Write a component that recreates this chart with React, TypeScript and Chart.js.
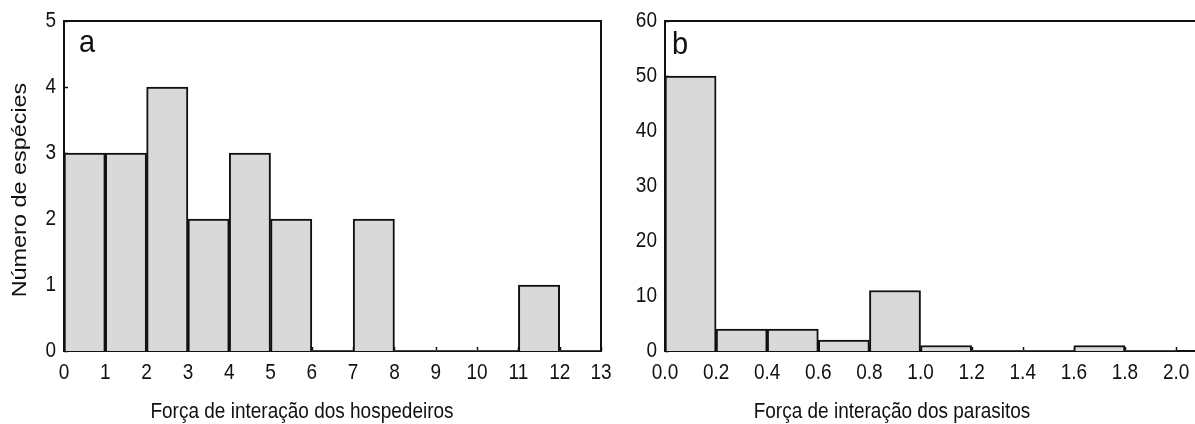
import React, { useEffect, useRef } from "react";
import { Chart, registerables } from "chart.js";
Chart.register(...registerables);

// ---- Panel a: host interaction strength ----
const hostBinStarts = [0, 1, 2, 3, 4, 5, 6, 7, 8, 9, 10, 11, 12];
const hostBinWidth = 1;
const hostCounts = [3, 3, 4, 2, 3, 2, 0, 2, 0, 0, 0, 1, 0];
const hostXTicks = [0, 1, 2, 3, 4, 5, 6, 7, 8, 9, 10, 11, 12, 13];
const hostYTicks = [0, 1, 2, 3, 4, 5];

// ---- Panel b: parasite interaction strength ----
const parBinStarts = [0, 0.2, 0.4, 0.6, 0.8, 1.0, 1.2, 1.4, 1.6, 1.8];
const parBinWidth = 0.2;
const parCounts = [50, 4, 4, 2, 11, 1, 0, 0, 1, 0];
const parXTicks = [0, 0.2, 0.4, 0.6, 0.8, 1.0, 1.2, 1.4, 1.6, 1.8, 2.0];
const parYTicks = [0, 10, 20, 30, 40, 50, 60];

const yTitle = "Número de espécies";
const hostXTitle = "Força de interação dos hospedeiros";
const parXTitle = "Força de interação dos parasitos";

const FONT = "'Liberation Sans', Arial, sans-serif";
const INK = "#111";
const FILL = "#d9d9d9";
const STRETCH = 1.13;

type PanelCfg = {
  starts: number[];
  width: number;
  counts: number[];
  xTicks: number[];
  yTicks: number[];
  xMax: number;
  yAxisWidth: number;
  padRight: number;
  letter: string;
  letterX: number;
  letterY: number;
  xTitle: string;
  xTitleCenter: number;
  yTitle?: string;
  rightBorder: boolean;
  fmt: (v: number) => string;
};

function stretchedText(ctx: any, text: string, x: number, y: number, sx: number, sy: number) {
  ctx.save();
  ctx.translate(x, y);
  ctx.scale(sx, sy);
  ctx.fillText(text, 0, 0);
  ctx.restore();
}

function makePlugin(cfg: PanelCfg) {
  return {
    id: "frame_" + cfg.letter,
    beforeDatasetsDraw(chart: any) {
      const { ctx, chartArea, scales } = chart;
      const { left, bottom } = chartArea;
      const x = scales.x;
      const y = scales.y;
      ctx.save();
      ctx.strokeStyle = INK;
      ctx.lineWidth = 1.5;
      ctx.beginPath();
      for (const t of y.ticks) {
        const py = Math.round(y.getPixelForValue(t.value)) + 0.5;
        ctx.moveTo(left, py);
        ctx.lineTo(left + 4, py);
      }
      for (const t of x.ticks) {
        const px = Math.round(x.getPixelForValue(t.value)) + 0.5;
        ctx.moveTo(px, bottom);
        ctx.lineTo(px, bottom - 4);
      }
      ctx.stroke();
      ctx.restore();
    },
    afterDraw(chart: any) {
      const { ctx, chartArea, scales } = chart;
      const { left, right, top, bottom } = chartArea;
      const x = scales.x;
      const y = scales.y;
      ctx.save();
      ctx.strokeStyle = INK;
      ctx.lineWidth = 2;
      ctx.beginPath();
      ctx.moveTo(left - 1, top);
      ctx.lineTo(right + 1, top);
      if (cfg.rightBorder) {
        ctx.moveTo(right, top - 1);
        ctx.lineTo(right, bottom + 1);
      }
      ctx.stroke();

      ctx.fillStyle = INK;

      // tick labels
      ctx.font = `19px ${FONT}`;
      ctx.textAlign = "center";
      ctx.textBaseline = "top";
      for (const t of x.ticks) {
        const px = x.getPixelForValue(t.value);
        stretchedText(ctx, cfg.fmt(t.value), px, bottom + 11, 1, STRETCH);
      }
      ctx.textAlign = "right";
      ctx.textBaseline = "middle";
      for (const t of y.ticks) {
        const py = y.getPixelForValue(t.value);
        stretchedText(ctx, String(t.value), left - 8, py, 1, STRETCH);
      }

      // panel letter
      ctx.font = `29px ${FONT}`;
      ctx.textAlign = "left";
      ctx.textBaseline = "alphabetic";
      stretchedText(ctx, cfg.letter, cfg.letterX, cfg.letterY, 1, 1.05);

      // x title
      ctx.font = `19px ${FONT}`;
      ctx.textAlign = "center";
      stretchedText(ctx, cfg.xTitle, cfg.xTitleCenter, 418, 1, 1.15);

      // y title
      if (cfg.yTitle) {
        ctx.save();
        ctx.translate(26, (top + bottom) / 2 + 4);
        ctx.rotate(-Math.PI / 2);
        ctx.font = `20px ${FONT}`;
        ctx.textAlign = "center";
        ctx.scale(1.17, 1);
        ctx.fillText(cfg.yTitle, 0, 0);
        ctx.restore();
      }
      ctx.restore();
    },
  };
}

function Panel({ cfg, w, h }: { cfg: PanelCfg; w: number; h: number }) {
  const ref = useRef<HTMLCanvasElement>(null);
  useEffect(() => {
    if (!ref.current) return;
    const data = cfg.starts.map((s, i) => ({ x: s + cfg.width / 2, y: cfg.counts[i] }));
    const chart = new Chart(ref.current, {
      type: "bar",
      data: {
        datasets: [
          {
            data,
            backgroundColor: FILL,
            borderColor: INK,
            borderWidth: (c: any) => (c.raw && c.raw.y === 0 ? 0 : 2),
            borderSkipped: "start",
            barPercentage: 1,
            categoryPercentage: 1,
          } as any,
        ],
      },
      options: {
        animation: false,
        responsive: false,
        events: [],
        layout: { padding: { top: 21, right: cfg.padRight, left: 0, bottom: 0 } },
        plugins: { legend: { display: false }, tooltip: { enabled: false } },
        scales: {
          x: {
            type: "linear",
            min: 0,
            max: cfg.xMax,
            offset: false,
            grid: { display: false, drawTicks: false, offset: false },
            border: { display: true, color: INK, width: 2 },
            afterBuildTicks: (s: any) => {
              s.ticks = cfg.xTicks.map((v) => ({ value: v }));
            },
            afterFit: (s: any) => {
              s.height = 73;
            },
            ticks: { display: false },
          },
          y: {
            type: "linear",
            min: cfg.yTicks[0],
            max: cfg.yTicks[cfg.yTicks.length - 1],
            grid: { display: false, drawTicks: false },
            border: { display: true, color: INK, width: 2 },
            afterBuildTicks: (s: any) => {
              s.ticks = cfg.yTicks.map((v) => ({ value: v }));
            },
            afterFit: (s: any) => {
              s.width = cfg.yAxisWidth;
            },
            ticks: { display: false },
          },
        },
      } as any,
      plugins: [makePlugin(cfg) as any],
    });
    return () => chart.destroy();
  }, []);
  return <canvas ref={ref} width={w} height={h} style={{ width: w, height: h, display: "block" }} />;
}

const panelA: PanelCfg = {
  starts: hostBinStarts,
  width: hostBinWidth,
  counts: hostCounts,
  xTicks: hostXTicks,
  yTicks: hostYTicks,
  xMax: 13,
  yAxisWidth: 64,
  padRight: 29,
  letter: "a",
  letterX: 79,
  letterY: 52,
  xTitle: hostXTitle,
  xTitleCenter: 302,
  yTitle,
  rightBorder: true,
  fmt: (v) => String(v),
};

const panelB: PanelCfg = {
  starts: parBinStarts,
  width: parBinWidth,
  counts: parCounts,
  xTicks: parXTicks,
  yTicks: parYTicks,
  xMax: 2.074,
  yAxisWidth: 35,
  padRight: 0,
  letter: "b",
  letterX: 42,
  letterY: 54,
  xTitle: parXTitle,
  xTitleCenter: 262,
  rightBorder: false,
  fmt: (v) => v.toFixed(1),
};

export default function App() {
  return (
    <div style={{ position: "absolute", left: 0, top: 0, width: 1195, height: 424, background: "#fff", overflow: "hidden" }}>
      <div style={{ position: "absolute", left: 0, top: 0 }}>
        <Panel cfg={panelA} w={630} h={424} />
      </div>
      <div style={{ position: "absolute", left: 630, top: 0 }}>
        <Panel cfg={panelB} w={565} h={424} />
      </div>
    </div>
  );
}
